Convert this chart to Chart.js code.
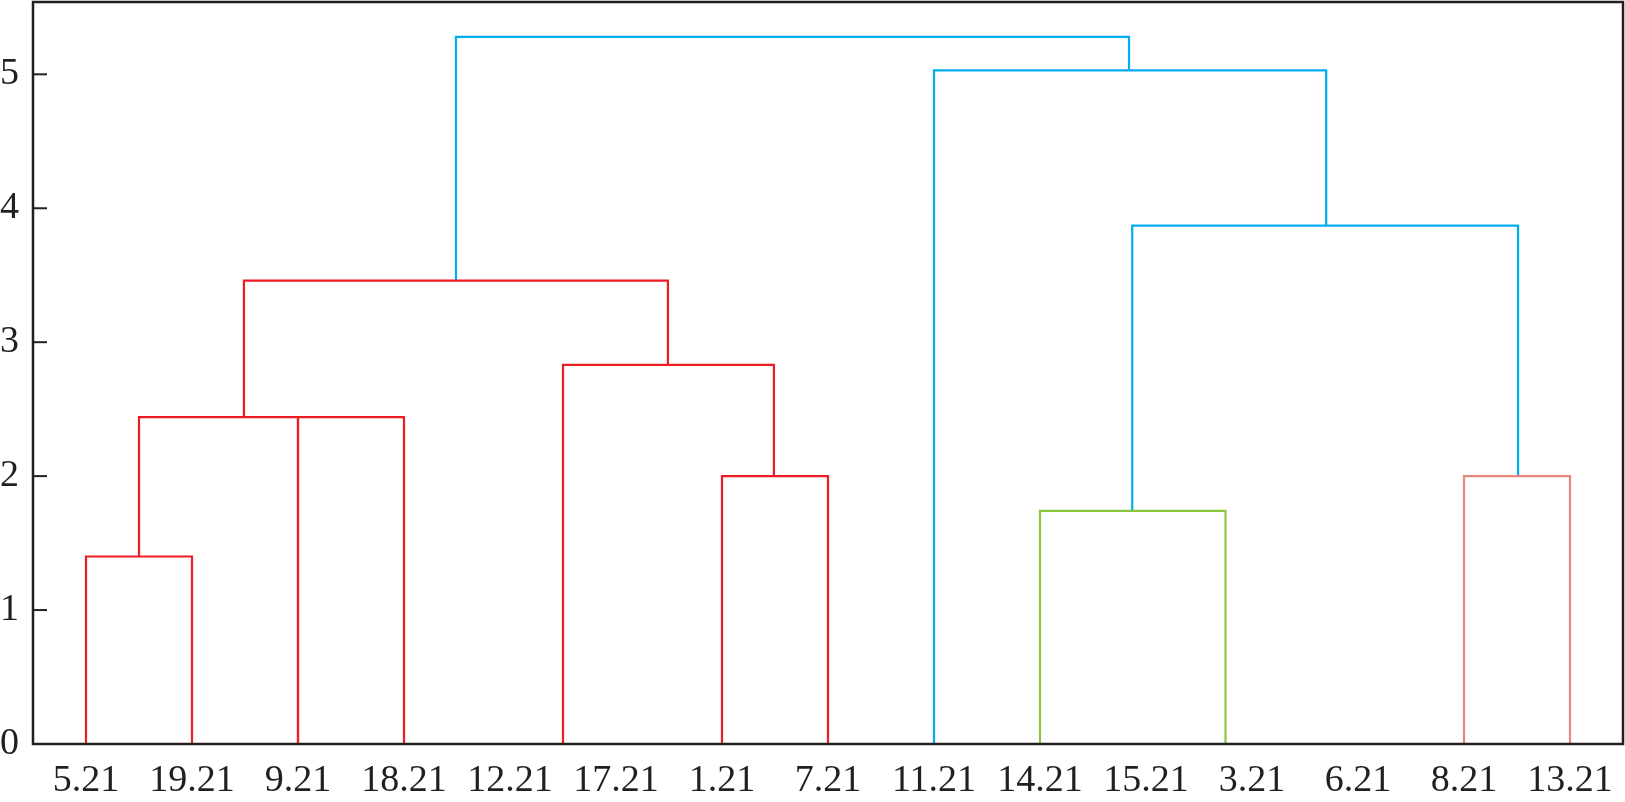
<!DOCTYPE html>
<html>
<head>
<meta charset="utf-8">
<script src="https://cdn.jsdelivr.net/npm/chart.js@4/dist/chart.umd.min.js"></script>
<style>
  html, body { margin: 0; padding: 0; background: #fff; }
  #wrap { width: 1625px; height: 802px; }
</style>
</head>
<body>
<div id="wrap"><canvas id="chart-dendro"></canvas></div>
<script>
// leaves in plotted order
const leafLabels = ["5.21", "19.21", "9.21", "18.21", "12.21", "17.21", "1.21", "7.21",
  "11.21", "14.21", "15.21", "3.21", "6.21", "8.21", "13.21"];
const yTicks = [0, 1, 2, 3, 4, 5];

// one entry per link: left / right leg position (leaf index), leg start, join height
const linkLeft = [0, 0.5, 2, 6, 4.5, 1.49, 9, 13, 9.87, 8, 3.49];
const linkRight = [1, 2, 3, 7, 6.49, 5.49, 10.75, 14, 13.51, 11.7, 9.84];
const linkLeftBase = [0, 1.4, 0, 0, 0, 2.44, 0, 0, 1.74, 0, 3.46];
const linkRightBase = [0, 0, 0, 0, 2.0, 2.83, 0, 0, 2.0, 3.87, 5.03];
const linkHeight = [1.4, 2.44, 2.44, 2.0, 2.83, 3.46, 1.74, 2.0, 3.87, 5.03, 5.28];
const linkCluster = ["A", "A", "A", "A", "A", "A", "C", "D", "B", "B", "B"];

const COLORS = { A: "#ed1c24", B: "#00aeef", C: "#8dc63f", D: "#e8877d" };
const INK = "#231f20";
const FONT = { family: "'Liberation Serif', 'Times New Roman', serif", size: 38 };

const datasets = linkHeight.map((h, i) => ({
  data: [
    { x: linkLeft[i], y: linkLeftBase[i] },
    { x: linkLeft[i], y: h },
    { x: linkRight[i], y: h },
    { x: linkRight[i], y: linkRightBase[i] },
  ],
  showLine: true,
  borderColor: COLORS[linkCluster[i]],
  borderWidth: 2.2,
  pointRadius: 0,
  tension: 0,
}));

// frame box + inward y ticks
const frame = {
  id: "frame",
  afterDraw(chart) {
    const { ctx, chartArea: a } = chart;
    const y = chart.scales.y;
    ctx.save();
    ctx.strokeStyle = INK;
    ctx.lineWidth = 2.5;
    ctx.strokeRect(a.left, a.top, a.right - a.left, a.bottom - a.top);
    ctx.lineWidth = 2;
    yTicks.forEach((v) => {
      const py = y.getPixelForValue(v);
      ctx.beginPath();
      ctx.moveTo(a.left, py);
      ctx.lineTo(a.left + 14, py);
      ctx.stroke();
    });
    ctx.restore();
  },
};

new Chart(document.getElementById("chart-dendro"), {
  type: "scatter",
  data: { datasets },
  options: {
    responsive: true,
    maintainAspectRatio: false,
    animation: false,
    layout: { padding: { top: 2, right: 2, left: 0, bottom: 0 } },
    plugins: { legend: { display: false }, tooltip: { enabled: false } },
    scales: {
      x: {
        type: "linear",
        min: -0.5,
        max: 14.5,
        afterBuildTicks: (s) => { s.ticks = leafLabels.map((_, i) => ({ value: i })); },
        afterFit: (s) => { s.height = 58; s.paddingLeft = 0; s.paddingRight = 0; },
        grid: { display: false, drawTicks: false },
        border: { display: false },
        ticks: {
          autoSkip: false,
          maxRotation: 0,
          padding: 14,
          color: INK,
          font: FONT,
          callback: (v) => leafLabels[v],
        },
      },
      y: {
        min: 0,
        max: 5.54,
        afterBuildTicks: (s) => { s.ticks = yTicks.map((v) => ({ value: v })); },
        afterFit: (s) => { s.width = 33; s.paddingTop = 0; s.paddingBottom = 0; },
        grid: { display: false, drawTicks: false },
        border: { display: false },
        ticks: { padding: 14, color: INK, font: FONT },
      },
    },
  },
  plugins: [frame],
});
</script>
</body>
</html>
